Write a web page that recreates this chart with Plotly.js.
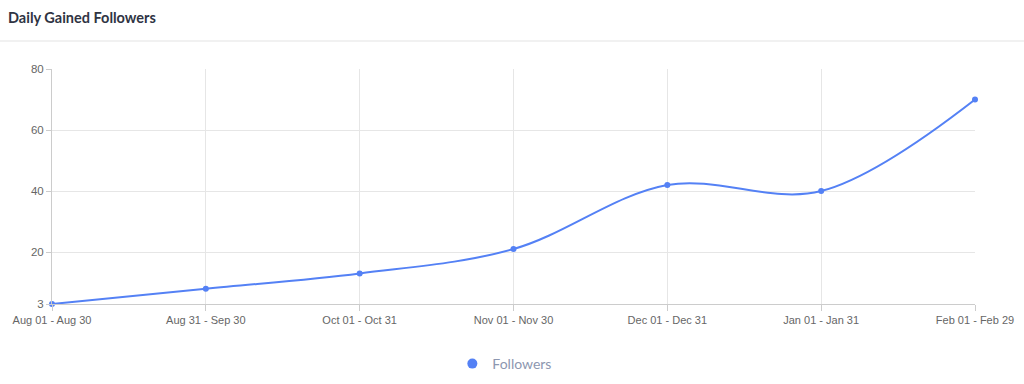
<!DOCTYPE html>
<html>
<head>
<meta charset="utf-8">
<script src="https://cdn.plot.ly/plotly-3.0.1.min.js"></script>
<style>
html,body{margin:0;padding:0;background:#fff;}
#chart{width:1024px;height:384px;}
</style>
</head>
<body>
<div id="chart"></div>
<script>
const categories = ["Aug 01 - Aug 30","Aug 31 - Sep 30","Oct 01 - Oct 31","Nov 01 - Nov 30","Dec 01 - Dec 31","Jan 01 - Jan 31","Feb 01 - Feb 29"];
const followers = [3, 8, 13, 21, 42, 40, 70];
const yTicks = [3, 20, 40, 60, 80];
const seriesName = "Followers";
const chartTitle = "Daily Gained Followers";

const blue = "#5481f5";
const traces = [
  {
    x: categories, y: followers, type: "scatter", mode: "lines+markers",
    line: {color: blue, width: 2, shape: "spline", smoothing: 1},
    marker: {color: blue, size: 6},
    showlegend: false, hoverinfo: "x+y", cliponaxis: false
  },
  {
    x: [null], y: [null], type: "scatter", mode: "markers",
    marker: {color: blue, size: 10}, name: seriesName, showlegend: true
  }
];

const W = 923, H = 235;
const layout = {
  width: 1024, height: 384,
  margin: {l: 52, r: 49, t: 69, b: 80},
  paper_bgcolor: "#fff", plot_bgcolor: "#fff",
  font: {family: "Liberation Sans, Arial, sans-serif", size: 11, color: "#666"},
  title: {text: "<b>" + chartTitle + "</b>", x: 8/1024, xanchor: "left", xref: "container",
          y: 1 - 18/384, yanchor: "middle", yref: "container",
          font: {family: "Lato, Open Sans, sans-serif", size: 14.5, color: "#2f3443"}},
  xaxis: {
    type: "category", range: [0, 6], fixedrange: true, automargin: false,
    showgrid: true, gridcolor: "#e6e6e6", gridwidth: 1,
    showline: true, linecolor: "#cccccc", linewidth: 1,
    ticks: "outside", ticklen: 6, tickcolor: "#cccccc",
    tickfont: {size: 11, color: "#666"}, zeroline: false
  },
  yaxis: {
    range: [3, 80], tickvals: yTicks, ticktext: yTicks.map(String), fixedrange: true, automargin: false,
    showgrid: true, gridcolor: "#e6e6e6", gridwidth: 1,
    showline: true, linecolor: "#cccccc", linewidth: 1,
    ticks: "outside", ticklen: 5, tickcolor: "#cccccc",
    tickfont: {size: 11.5, color: "#666"}, zeroline: false
  },
  legend: {orientation: "h", x: 0.493, xref: "container", xanchor: "center",
           y: 1 - 364/384, yref: "container", yanchor: "middle",
           font: {family: "Lato, Open Sans, sans-serif", size: 14, color: "#8d97b0"},
           itemwidth: 30},
  shapes: [
    {type: "line", xref: "paper", yref: "paper", x0: -52/W, x1: (1024-52)/W,
     y0: (304-41)/H, y1: (304-41)/H, line: {color: "#e3e3e3", width: 1}}
  ],
  hovermode: "closest"
};

Plotly.newPlot("chart", traces, layout, {displayModeBar: false});
</script>
</body>
</html>
